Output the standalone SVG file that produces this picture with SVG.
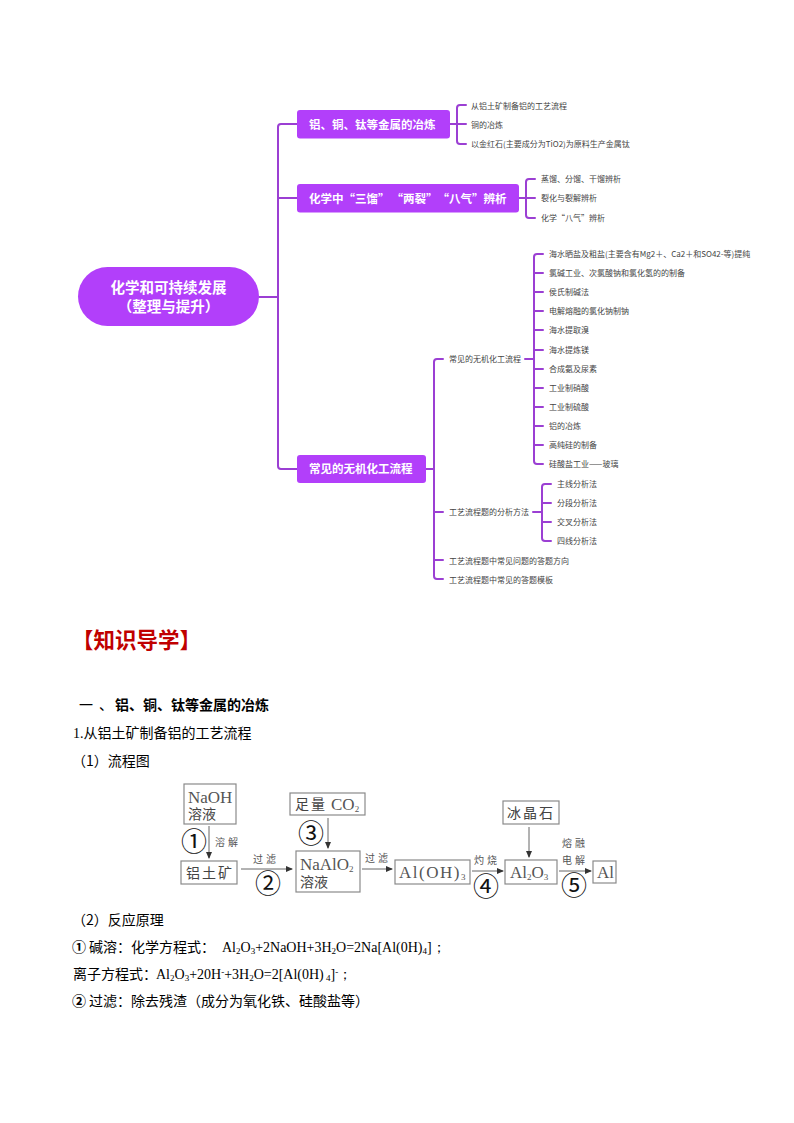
<svg xmlns="http://www.w3.org/2000/svg" width="794" height="1123" viewBox="0 0 794 1123">
<style>
text{font-family:"Noto Sans CJK SC","Liberation Sans",sans-serif}
.bg{fill:#fff}
.n{fill:#b23ffa}
.nt{fill:#fff;font-weight:700;font-size:11.5px}
.rt{fill:#fff;font-weight:700;font-size:14.5px;text-anchor:middle}
.c{fill:none;stroke:#9b3fd3;stroke-width:2;stroke-linecap:round;stroke-linejoin:round}
.l{fill:#444;font-size:8px}
.b{fill:#000;font-size:14px}
.bb{fill:#000;font-size:14px;font-weight:700}
.ser{font-family:"Liberation Serif",serif}
.box{fill:#fff;stroke:#8a8a8a;stroke-width:1.2}
.ft{fill:#444;font-size:14px;font-family:"Noto Sans CJK SC",serif}
.fe{fill:#555;font-size:17px;font-family:"Liberation Serif",serif}
.fl{fill:#555;font-size:10px;letter-spacing:3px}
.num{fill:#111;font-size:26px;text-anchor:middle}
.a{fill:none;stroke:#555;stroke-width:.9;marker-end:url(#ah)}
</style>
<defs><marker id="ah" markerWidth="7" markerHeight="6" refX="6" refY="3" orient="auto" markerUnits="userSpaceOnUse"><path d="M0 0L7 3L0 6Z" fill="#333"/></marker></defs>
<rect class="bg" width="794" height="1123"/>
<g id="connectors">
<path class="c" d="M259 297H278M297 124H281Q278 124 278 127V466Q278 469 281 469H297M278 198H297"/>
<path class="c" d="M450 124H466M466 105H460Q457 105 457 108V141Q457 144 460 144H466"/>
<path class="c" d="M519 198H535M535 179H529Q526 179 526 182V215Q526 218 529 218H535"/>
<path class="c" d="M426 469H434M443 359H437Q434 359 434 362V576Q434 579 437 579H443M434 512H443M434 560H443"/>
<path class="c" d="M525 359H534M543 254H537Q534 254 534 257V461Q534 464 537 464H543M534 273H543M534 292H543M534 311H543M534 330H543M534 350H543M534 369H543M534 388H543M534 407H543M534 426H543M534 445H543"/>
<path class="c" d="M533 512H542M551 484H545Q542 484 542 487V538Q542 541 545 541H551M542 503H551M542 522H551"/>
</g>
<g id="root"><rect class="n" x="78" y="267" width="181" height="59" rx="29.5"/><text class="rt" x="168.500" y="293">化学和可持续发展</text><text class="rt" x="168.500" y="312">（整理与提升）</text></g>
<g id="n1"><rect class="n" x="297" y="110" width="153" height="28.500" rx="3"/><text class="nt" x="309" y="128.500">铝、铜、钛等金属的冶炼</text></g>
<g id="n2"><rect class="n" x="297" y="184" width="222" height="28.500" rx="3"/><text class="nt" x="309" y="202.500">化学中<tspan x="343.500">“</tspan><tspan x="355">三馏</tspan><tspan x="378">”</tspan><tspan x="391.500">“</tspan><tspan x="403">两裂</tspan><tspan x="426">”</tspan><tspan x="437.500">“</tspan><tspan x="449">八气</tspan><tspan x="472">”</tspan><tspan x="483.500">辨析</tspan></text></g>
<g id="n3"><rect class="n" x="297" y="455" width="129" height="28" rx="3"/><text class="nt" x="309" y="473">常见的无机化工流程</text></g>
<g id="n1-items"><text class="l" x="471" y="109">从铝土矿制备铝的工艺流程</text><text class="l" x="471" y="128">铜的冶炼</text><text class="l" x="471" y="147">以金红石(主要成分为TiO2)为原料生产金属钛</text></g>
<g id="n2-items"><text class="l" x="541" y="182">蒸馏、分馏、干馏辨析</text><text class="l" x="541" y="201">裂化与裂解辨析</text><text class="l" x="541" y="221">化学“八气”辨析</text></g>
<g id="n3-items"><text class="l" x="449" y="362">常见的无机化工流程</text><text class="l" x="449" y="515">工艺流程题的分析方法</text><text class="l" x="449" y="564">工艺流程题中常见问题的答题方向</text><text class="l" x="449" y="583">工艺流程题中常见的答题模板</text></g>
<g id="flow-items"><text class="l" x="549" y="257">海水晒盐及粗盐(主要含有Mg2＋、Ca2＋和SO42-等)提纯</text><text class="l" x="549" y="276">氯碱工业、次氯酸钠和氯化氢的的制备</text><text class="l" x="549" y="295">侯氏制碱法</text><text class="l" x="549" y="314">电解熔融的氯化钠制钠</text><text class="l" x="549" y="333">海水提取溴</text><text class="l" x="549" y="353">海水提炼镁</text><text class="l" x="549" y="372">合成氨及尿素</text><text class="l" x="549" y="391">工业制硝酸</text><text class="l" x="549" y="410">工业制硫酸</text><text class="l" x="549" y="429">铝的冶炼</text><text class="l" x="549" y="448">高纯硅的制备</text><text class="l" x="549" y="467">硅酸盐工业——玻璃</text></g>
<g id="method-items"><text class="l" x="557" y="487">主线分析法</text><text class="l" x="557" y="506">分段分析法</text><text class="l" x="557" y="525">交叉分析法</text><text class="l" x="557" y="544">四线分析法</text></g>
<text x="72" y="648" fill="#c00000" font-size="21.5px" font-weight="700">【知识导学】</text>
<text class="bb" x="79" y="710"><tspan font-weight="400">一</tspan><tspan font-weight="400" x="99">、</tspan><tspan x="115">铝、铜、钛等金属的冶炼</tspan></text>
<text class="b" x="73" y="738"><tspan class="ser">1.</tspan>从铝土矿制备铝的工艺流程</text>
<text class="b" x="72" y="766">（1）流程图</text>
<g id="flow">
<rect class="box" x="184" y="784" width="52" height="40"/><text class="fe" x="188" y="803">NaOH</text><text class="ft" x="188" y="819">溶液</text>
<rect class="box" x="290" y="793" width="75" height="22"/><text class="ft" x="295" y="809" letter-spacing="2">足量</text><text class="fe" x="331" y="810">CO<tspan font-size="9px" dy="2">2</tspan></text>
<rect class="box" x="181" y="861" width="56" height="23"/><text class="ft" x="186" y="878" letter-spacing="2">铝土矿</text>
<rect class="box" x="296" y="851" width="64" height="41"/><text class="fe" x="300" y="870">NaAlO<tspan font-size="9px" dy="2">2</tspan></text><text class="ft" x="300" y="887">溶液</text>
<rect class="box" x="395" y="860" width="75" height="24"/><text class="fe" x="399" y="878" letter-spacing="1.500">Al(OH)<tspan font-size="9px" dy="2">3</tspan></text>
<rect class="box" x="503" y="801" width="56" height="23"/><text class="ft" x="507" y="818" letter-spacing="2">冰晶石</text>
<rect class="box" x="505" y="860" width="52" height="24"/><text class="fe" x="510" y="878">Al<tspan font-size="9px" dy="2">2</tspan><tspan dy="-2">O</tspan><tspan font-size="9px" dy="2">3</tspan></text>
<rect class="box" x="593" y="861" width="23" height="22"/><text class="fe" x="597" y="878">Al</text>
<path class="a" d="M209 826V858"/><path class="a" d="M328 818V848"/><path class="a" d="M529 827V857"/>
<path class="a" d="M241 869H292"/><path class="a" d="M362 869H392"/><path class="a" d="M472 871H503"/><path class="a" d="M559 871H591"/>
<text class="fl" x="215" y="846">溶解</text><text class="fl" x="253" y="863">过滤</text><text class="fl" x="365" y="862">过滤</text><text class="fl" x="474" y="864">灼烧</text><text class="fl" x="562" y="847">熔融</text><text class="fl" x="562" y="864">电解</text>
<text class="num" x="194" y="851">①</text><text class="num" x="268" y="893">②</text><text class="num" x="311" y="843">③</text><text class="num" x="486" y="896">④</text><text class="num" x="574" y="895">⑤</text>
</g>
<text class="b" x="72" y="925">（2）反应原理</text>
<text class="b" x="72" y="952"><tspan font-weight="700">①</tspan><tspan dx="3">碱溶：化学方程式：</tspan></text>
<text class="b ser" x="222" y="952">Al<tspan font-size="9px" dy="2">2</tspan><tspan dy="-2">O</tspan><tspan font-size="9px" dy="2">3</tspan><tspan dy="-2">+2NaOH+3H</tspan><tspan font-size="9px" dy="2">2</tspan><tspan dy="-2">O=2Na[Al(0H)</tspan><tspan font-size="9px" dy="2">4</tspan><tspan dy="-2">]；</tspan></text>
<text class="b" x="73" y="979">离子方程式：</text>
<text class="b ser" x="156" y="979">Al<tspan font-size="9px" dy="2">2</tspan><tspan dy="-2">O</tspan><tspan font-size="9px" dy="2">3</tspan><tspan dy="-2">+20H</tspan><tspan font-size="9px" dy="-4">-</tspan><tspan dy="4">+3H</tspan><tspan font-size="9px" dy="2">2</tspan><tspan dy="-2">O=2[Al(0H)</tspan><tspan font-size="9px" dy="2"> 4</tspan><tspan dy="-2">]</tspan><tspan font-size="9px" dy="-4">-</tspan><tspan dy="4">；</tspan></text>
<text class="b" x="72" y="1006"><tspan font-weight="700">②</tspan><tspan dx="3">过滤：除去残渣（成分为氧化铁、硅酸盐等）</tspan></text>
</svg>
